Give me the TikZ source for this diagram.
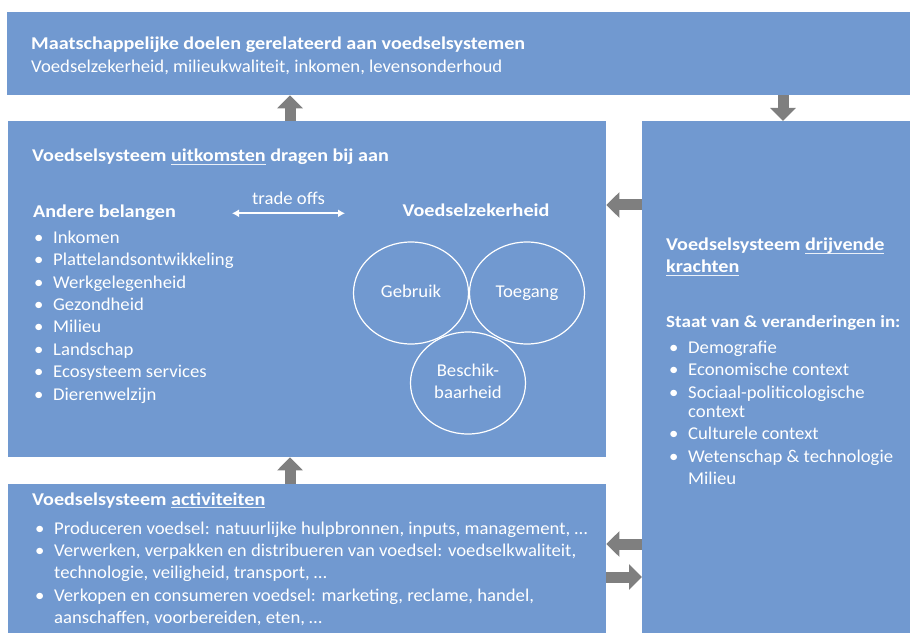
\documentclass[tikz,border=0pt]{standalone}
\usepackage{fontspec}
\setmainfont{Carlito}[FakeStretch=1.04, BoldFeatures={FakeStretch=1.12}]
\usetikzlibrary{arrows.meta,shapes.geometric,positioning}
\definecolor{vsblauw}{HTML}{7199D0}
\definecolor{vsgrijs}{HTML}{7F7F7F}
\newcommand\bol{\makebox[19bp][l]{\textbullet}}
\newcommand\inspr{\hspace*{19bp}}
\newcommand\onder[1]{\setbox0\hbox{#1}\rlap{\color{white!85!vsblauw}\rule[-3.2bp]{\wd0}{1bp}}\box0\relax}
\begin{document}
\begin{tikzpicture}[x=1bp,y=-1bp,
  font=\fontsize{18bp}{22.4bp}\selectfont, text=white,
  vak/.style={fill=vsblauw, draw=none, anchor=north west, inner sep=0pt},
  tekst/.style={anchor=base west, align=left, inner sep=0pt},
  kop/.style={tekst, font=\fontsize{18bp}{22.4bp}\selectfont\bfseries},
  cirkel/.style={ellipse, draw=white, line width=1.2bp, minimum width=115bp,
    minimum height=102bp, align=center, inner sep=0pt},
  blok/.style={vsgrijs, line width=11bp, -{Triangle[width=25bp,length=13bp]}},
  ruil/.style={white, line width=1.6bp, {Latex[length=7bp,width=8bp]}-{Latex[length=7bp,width=8bp]}},
]
\useasboundingbox (0,0) rectangle (910,633);
%% vakken
\node[vak, minimum width=903bp, minimum height=83bp] (doelen) at (7,12) {};
\node[vak, minimum width=598bp, minimum height=336bp] (uitkomsten) at (8,121) {};
\node[vak, minimum width=598bp, minimum height=149bp] (activiteiten) at (8,484) {};
\node[vak, minimum width=268bp, minimum height=512bp] (krachten) at (642,121) {};
%% doelen
\node[kop] (doelen_kop) at (31,49.5) {Maatschappelijke doelen gerelateerd aan voedselsystemen};
\node[tekst] (doelen_tekst) at (31,72.5) {Voedselzekerheid, milieukwaliteit, inkomen, levensonderhoud};
%% uitkomsten
\node[kop] (uitk_kop) at (32,161.5) {Voedselsysteem \onder{uitkomsten} dragen bij aan};
\node[kop] (andere) at (33,218) {Andere belangen};
\node[tekst] (andere_lijst) at (34,400.1) {\bol Inkomen\\ \bol Plattelandsontwikkeling\\ \bol Werkgelegenheid\\
  \bol Gezondheid\\ \bol Milieu\\ \bol Landschap\\ \bol Ecosysteem services\\ \bol Dierenwelzijn};
\node[kop, anchor=base] (zekerheid) at (476,217) {Voedselzekerheid};
\coordinate (ruil_l) at (232,213.3);
\coordinate (ruil_r) at (345,213.3);
\draw[ruil] (ruil_l) -- (ruil_r);
\node[tekst, anchor=base] (ruil_tekst) at (288.5,205) {trade offs};
\node[cirkel] (gebruik) at (411,293) {\strut Gebruik};
\node[cirkel] (toegang) at (527,293) {\strut Toegang};
\node[cirkel] (beschik) at (468,383) {\strut Beschik-\\\strut baarheid};
%% krachten
\node[kop] (kracht_kop) at (666,272.9) {Voedselsysteem \onder{drijvende}\\ \onder{krachten}};
\node[kop, font=\fontsize{17bp}{22.4bp}\selectfont\bfseries] (staat) at (666,327.3) {Staat van \& veranderingen in:};
\node[tekst] (kracht_lijst) at (669,484.7) {\bol Demografie\\ \bol Economische context\\
  \bol Sociaal-politicologische\\[-3bp] \inspr context\\ \bol Culturele context\\
  \bol Wetenschap \& technologie\\ \inspr Milieu};
%% activiteiten
\node[kop] (act_kop) at (32,505) {Voedselsysteem \onder{activiteiten}};
\node[tekst] (act_lijst) at (35,623.6) {\bol Produceren voedsel: natuurlijke hulpbronnen, inputs, management, \dots\\
  \bol Verwerken, verpakken en distribueren van voedsel: voedselkwaliteit,\\
  \inspr technologie, veiligheid, transport, \dots\\
  \bol Verkopen en consumeren voedsel: marketing, reclame, handel,\\
  \inspr aanschaffen, voorbereiden, eten, \dots};
%% pijlen
\coordinate (pijl_links) at (290,0);
\coordinate (pijl_rechts) at (783,0);
\coordinate (pijl_boven) at (0,205);
\coordinate (pijl_terug) at (0,544);
\coordinate (pijl_heen) at (0,577);
\draw[blok] (uitkomsten.north -| pijl_links) -- (doelen.south -| pijl_links);
\draw[blok] (doelen.south -| pijl_rechts) -- (krachten.north -| pijl_rechts);
\draw[blok] (krachten.west |- pijl_boven) -- (uitkomsten.east |- pijl_boven);
\draw[blok] (activiteiten.north -| pijl_links) -- (uitkomsten.south -| pijl_links);
\draw[blok] (krachten.west |- pijl_terug) -- (activiteiten.east |- pijl_terug);
\draw[blok] (activiteiten.east |- pijl_heen) -- (krachten.west |- pijl_heen);
\end{tikzpicture}
\end{document}
